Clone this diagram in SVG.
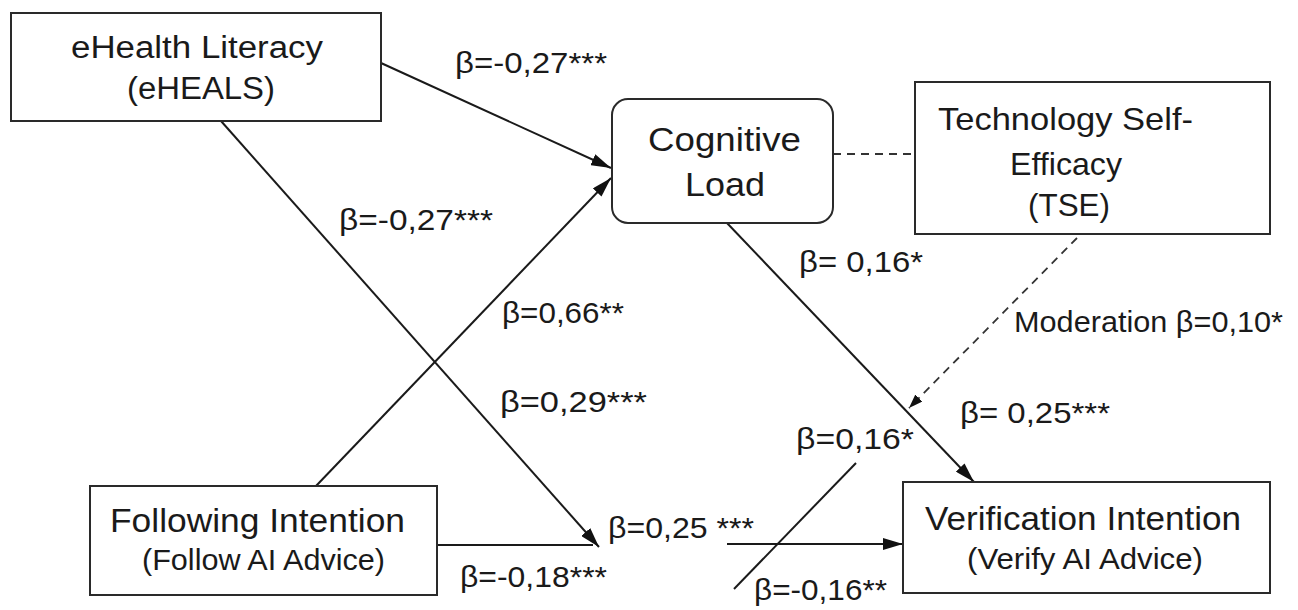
<svg xmlns="http://www.w3.org/2000/svg" width="1298" height="610" viewBox="0 0 1298 610">
<style>
.box{fill:#fff;stroke:#2a2a2a;stroke-width:2}
.nt{font-family:"Liberation Sans",Arial,sans-serif;fill:#1a1a1a}
.lb{font-family:"Liberation Sans",Arial,sans-serif;font-size:30px;fill:#1a1a1a}
.ln{fill:none;stroke:#1a1a1a;stroke-width:2}
.dash{fill:none;stroke:#333;stroke-width:1.8;stroke-dasharray:8 6}
</style>
<defs>
<marker id="arr" viewBox="0 0 20 12" refX="20" refY="6" markerWidth="20" markerHeight="12" orient="auto" markerUnits="userSpaceOnUse"><path d="M0,0 L20,6 L0,12 z" fill="#111"/></marker>
<marker id="arrs" viewBox="0 0 14 10" refX="14" refY="5" markerWidth="14" markerHeight="10" orient="auto" markerUnits="userSpaceOnUse"><path d="M0,0 L14,5 L0,10 z" fill="#111"/></marker>
</defs>
<rect width="1298" height="610" fill="#fff"/>
<g id="connectors">
<line class="ln" x1="381" y1="63" x2="611" y2="168" marker-end="url(#arr)"/>
<line class="ln" x1="316" y1="486" x2="611" y2="178" marker-end="url(#arr)"/>
<line class="ln" x1="221" y1="121" x2="599" y2="547" marker-end="url(#arr)"/>
<line class="ln" x1="437" y1="545" x2="593" y2="545"/>
<line class="ln" x1="727" y1="544" x2="903" y2="544" marker-end="url(#arr)"/>
<line class="ln" x1="727" y1="223" x2="974" y2="482" marker-end="url(#arr)"/>
<line class="ln" x1="734" y1="589" x2="856" y2="463"/>
<line class="dash" x1="833" y1="154" x2="915" y2="154"/>
<line class="dash" x1="1077" y1="238" x2="909" y2="408" marker-end="url(#arrs)"/>
</g>
<g id="node-ehealth">
<rect class="box" x="11" y="13" width="370" height="108"/>
<text class="nt" x="71" y="58" font-size="31" textLength="252" lengthAdjust="spacingAndGlyphs">eHealth Literacy</text>
<text class="nt" x="127" y="99" font-size="31" textLength="148" lengthAdjust="spacingAndGlyphs">(eHEALS)</text>
</g>
<g id="node-cognitive">
<rect class="box" x="612" y="99" width="221" height="124" rx="16"/>
<text class="nt" x="648" y="151" font-size="33" textLength="153" lengthAdjust="spacingAndGlyphs">Cognitive</text>
<text class="nt" x="685" y="196" font-size="33" textLength="80" lengthAdjust="spacingAndGlyphs">Load</text>
</g>
<g id="node-tse">
<rect class="box" x="915" y="82" width="355" height="152"/>
<text class="nt" x="938" y="130" font-size="32" textLength="255" lengthAdjust="spacingAndGlyphs">Technology Self-</text>
<text class="nt" x="1010" y="175" font-size="32" textLength="112" lengthAdjust="spacingAndGlyphs">Efficacy</text>
<text class="nt" x="1028" y="216" font-size="32" textLength="82" lengthAdjust="spacingAndGlyphs">(TSE)</text>
</g>
<g id="node-following">
<rect class="box" x="90" y="486" width="347" height="109"/>
<text class="nt" x="110" y="532" font-size="34" textLength="295" lengthAdjust="spacingAndGlyphs">Following Intention</text>
<text class="nt" x="142" y="570" font-size="30" textLength="243" lengthAdjust="spacingAndGlyphs">(Follow AI Advice)</text>
</g>
<g id="node-verification">
<rect class="box" x="903" y="482" width="367" height="111"/>
<text class="nt" x="925" y="530" font-size="34" textLength="316" lengthAdjust="spacingAndGlyphs">Verification Intention</text>
<text class="nt" x="967" y="569" font-size="30" textLength="236" lengthAdjust="spacingAndGlyphs">(Verify AI Advice)</text>
</g>
<g id="labels">
<text class="lb" x="455" y="73" textLength="152" lengthAdjust="spacingAndGlyphs">β=-0,27***</text>
<text class="lb" x="339" y="230" textLength="154" lengthAdjust="spacingAndGlyphs">β=-0,27***</text>
<text class="lb" x="502" y="323" textLength="122" lengthAdjust="spacingAndGlyphs">β=0,66**</text>
<text class="lb" x="500" y="412" textLength="147" lengthAdjust="spacingAndGlyphs">β=0,29***</text>
<text class="lb" x="608" y="538" textLength="146" lengthAdjust="spacingAndGlyphs">β=0,25 ***</text>
<text class="lb" x="460" y="587" textLength="147" lengthAdjust="spacingAndGlyphs">β=-0,18***</text>
<text class="lb" x="799" y="272" textLength="124" lengthAdjust="spacingAndGlyphs">β= 0,16*</text>
<text class="lb" x="1014" y="332" textLength="269" lengthAdjust="spacingAndGlyphs">Moderation β=0,10*</text>
<text class="lb" x="960" y="423" textLength="150" lengthAdjust="spacingAndGlyphs">β= 0,25***</text>
<text class="lb" x="796" y="449" textLength="118" lengthAdjust="spacingAndGlyphs">β=0,16*</text>
<text class="lb" x="754" y="600" textLength="133" lengthAdjust="spacingAndGlyphs">β=-0,16**</text>
</g>
</svg>
